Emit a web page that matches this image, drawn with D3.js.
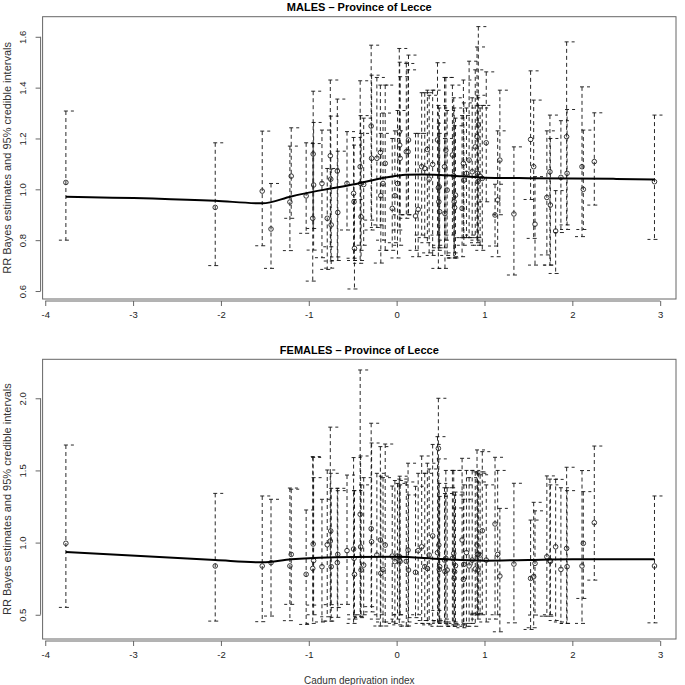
<!DOCTYPE html>
<html>
<head>
<meta charset="utf-8">
<script src="https://cdn.jsdelivr.net/npm/d3@7"></script>
<style>
    body { margin: 0; background: #fff; }
    svg { display: block; font-family: "Liberation Sans", Arial, sans-serif; }
</style>
</head>
<body>
<div id="chart"></div>
<script>
// --- Data (Cadum deprivation index vs RR) ---
const depIndex = [
    -3.765, -2.065, -1.53, -1.43, -1.215, -1.2, -1.03, -0.955, -0.95, -0.945,
    -0.85, -0.79, -0.755, -0.75, -0.745, -0.675, -0.67, -0.565, -0.49, -0.485,
    -0.48, -0.415, -0.41, -0.405, -0.375, -0.29, -0.285, -0.225, -0.185, -0.18,
    -0.155, -0.13, -0.05, -0.02, 0.01, 0.03, 0.035, 0.04, 0.11, 0.13,
    0.135, 0.215, 0.245, 0.285, 0.32, 0.35, 0.37, 0.41, 0.465, 0.475,
    0.48, 0.485, 0.49, 0.545, 0.55, 0.56, 0.575, 0.635, 0.65, 0.655,
    0.66, 0.67, 0.745, 0.76, 0.765, 0.795, 0.825, 0.86, 0.895, 0.915,
    0.92, 0.925, 0.93, 0.95, 0.975, 1.02, 1.12, 1.15, 1.175, 1.335,
    1.525, 1.56, 1.575, 1.71, 1.745, 1.75, 1.81, 1.87, 1.935, 1.94,
    2.11, 2.125, 2.25, 2.935
];

const maleRR = [
    1.027, 0.929, 0.993, 0.844, 0.95, 1.052, 0.974, 0.886, 1.139, 1.017,
    1.023, 0.886, 1.132, 1.04, 0.86, 1.072, 0.909, 1.023, 0.984, 0.951,
    0.768, 1.089, 1.023, 0.892, 1.019, 1.249, 1.122, 1.122, 1.145, 0.975,
    1.023, 1.102, 0.925, 0.975, 1.023, 1.226, 1.174, 1.122, 1.148, 1.148,
    1.194, 0.895, 0.921, 1.089, 1.082, 1.157, 1.04, 1.098, 1.194, 1.006,
    0.951, 1.01, 0.912, 1.089, 0.905, 1.154, 0.997, 1.135, 1.053, 0.951,
    0.928, 0.977, 0.925, 1.102, 1.036, 1.063, 1.115, 1.069, 1.167, 1.207,
    1.063, 1.03, 1.253, 1.052, 1.043, 1.183, 0.899, 0.958, 1.115, 0.903,
    1.196, 1.089, 0.863, 0.968, 1.069, 0.938, 0.836, 1.047, 1.207, 1.063,
    1.089, 1.0, 1.109, 1.03
];
const maleLow = [
    0.80, 0.70, 0.778, 0.689, 0.759, 0.886, 0.827, 0.639, 0.846, 0.761,
    0.731, 0.685, 0.774, 0.718, 0.69, 0.734, 0.72, 0.84, 0.729, 0.72,
    0.608, 0.709, 0.76, 0.72, 0.78, 0.879, 0.84, 0.85, 0.86, 0.71,
    0.80, 0.76, 0.76, 0.79, 0.73, 0.84, 0.90, 0.78, 0.886, 0.90,
    0.90, 0.76, 0.735, 0.82, 0.81, 0.79, 0.75, 0.74, 0.82, 0.689,
    0.76, 0.78, 0.77, 0.77, 0.689, 0.80, 0.74, 0.82, 0.73, 0.73,
    0.75, 0.73, 0.735, 0.81, 0.78, 0.81, 0.81, 0.82, 0.81, 0.79,
    0.80, 0.78, 0.81, 0.78, 0.76, 0.951, 0.777, 0.735, 0.90, 0.663,
    0.96, 0.807, 0.702, 0.742, 0.702, 0.702, 0.669, 0.83, 0.86, 0.842,
    0.814, 0.842, 0.938, 0.803
];
const maleHigh = [
    1.308, 1.183, 1.229, 1.023, 1.17, 1.242, 1.183, 1.18, 1.386, 1.263,
    1.233, 1.082, 1.43, 1.288, 1.08, 1.355, 1.15, 1.227, 1.204, 1.174,
    0.96, 1.427, 1.29, 1.22, 1.28, 1.567, 1.449, 1.44, 1.41, 1.22,
    1.30, 1.41, 1.20, 1.23, 1.31, 1.554, 1.50, 1.443, 1.495, 1.47,
    1.528, 1.22, 1.22, 1.38, 1.38, 1.39, 1.37, 1.39, 1.498, 1.33,
    1.26, 1.32, 1.22, 1.44, 1.20, 1.44, 1.31, 1.41, 1.36, 1.32,
    1.25, 1.28, 1.29, 1.43, 1.34, 1.32, 1.504, 1.36, 1.47, 1.56,
    1.37, 1.33, 1.64, 1.32, 1.33, 1.462, 1.02, 1.23, 1.39, 1.167,
    1.466, 1.351, 1.05, 1.23, 1.292, 1.20, 0.995, 1.27, 1.58, 1.314,
    1.403, 1.233, 1.301, 1.292
];

const femaleRR = [
    0.995, 0.838, 0.838, 0.861, 0.838, 0.918, 0.78, 0.821, 0.99, 0.875,
    0.833, 0.985, 1.011, 1.08, 0.833, 0.861, 0.918, 0.944, 0.955, 0.891,
    0.78, 1.196, 0.97, 0.81, 0.844, 1.096, 1.006, 0.914, 1.018, 0.787,
    0.814, 0.983, 0.907, 0.868, 0.907, 0.879, 0.902, 0.87, 0.87, 0.948,
    0.81, 0.794, 0.944, 0.971, 0.833, 0.821, 0.914, 1.046, 0.93, 1.653,
    0.983, 0.814, 0.833, 0.879, 0.80, 0.891, 0.81, 0.891, 0.925, 0.752,
    0.798, 0.84, 1.018, 0.745, 0.849, 0.93, 0.838, 0.879, 0.817, 0.983,
    0.918, 0.81, 0.92, 0.914, 1.082, 0.879, 1.129, 0.918, 0.768, 0.851,
    0.752, 0.764, 0.856, 0.902, 0.875, 0.87, 0.971, 0.814, 0.96, 0.833,
    0.838, 0.995, 1.138, 0.838
];
const femaleLow = [
    0.551, 0.456, 0.452, 0.491, 0.459, 0.572, 0.433, 0.44, 0.567, 0.50,
    0.45, 0.486, 0.456, 0.57, 0.456, 0.482, 0.55, 0.572, 0.44, 0.50,
    0.47, 0.486, 0.49, 0.48, 0.50, 0.556, 0.52, 0.47, 0.422, 0.50,
    0.45, 0.422, 0.45, 0.44, 0.47, 0.43, 0.50, 0.50, 0.42, 0.422,
    0.45, 0.48, 0.50, 0.44, 0.46, 0.44, 0.43, 0.46, 0.42, 0.53,
    0.44, 0.45, 0.46, 0.45, 0.44, 0.47, 0.42, 0.43, 0.42, 0.42,
    0.45, 0.44, 0.43, 0.41, 0.43, 0.42, 0.44, 0.44, 0.42, 0.50,
    0.51, 0.47, 0.50, 0.51, 0.50, 0.45, 0.47, 0.50, 0.382, 0.444,
    0.398, 0.41, 0.498, 0.49, 0.50, 0.49, 0.46, 0.45, 0.44, 0.44,
    0.44, 0.613, 0.74, 0.444
];
const femaleHigh = [
    1.676, 1.341, 1.323, 1.30, 1.378, 1.37, 1.226, 1.596, 1.59, 1.45,
    1.30, 1.503, 1.80, 1.48, 1.376, 1.376, 1.36, 1.468, 1.589, 1.36,
    1.36, 2.196, 1.60, 1.40, 1.45, 1.827, 1.69, 1.48, 1.665, 1.46,
    1.45, 1.683, 1.392, 1.43, 1.41, 1.44, 1.46, 1.40, 1.42, 1.55,
    1.33, 1.39, 1.48, 1.60, 1.48, 1.55, 1.51, 1.68, 1.734, 2.0,
    1.58, 1.41, 1.32, 1.38, 1.34, 1.50, 1.38, 1.50, 1.50, 1.24,
    1.33, 1.35, 1.584, 1.30, 1.40, 1.50, 1.45, 1.50, 1.49, 1.642,
    1.49, 1.42, 1.48, 1.47, 1.63, 1.40, 1.591, 1.50, 1.237, 1.411,
    1.156, 1.279, 1.22, 1.462, 1.44, 1.40, 1.438, 1.38, 1.522, 1.36,
    1.499, 1.353, 1.669, 1.323
];

// smoothed trend (fitted curve)
const maleTrendX = [-3.765, -2.065, -1.53, -1.2, -1.0, -0.75, -0.5, -0.25, 0.0, 0.1, 0.3, 0.5, 0.75, 1.0, 1.5, 2.0, 2.5, 2.935];
const maleTrend = [0.971, 0.955, 0.945, 0.972, 0.987, 1.003, 1.019, 1.038, 1.053, 1.057, 1.058, 1.056, 1.051, 1.046, 1.044, 1.043, 1.041, 1.039];
const femaleTrendX = [-3.765, -2.065, -1.53, -1.2, -0.5, 0.0, 0.5, 1.0, 1.5, 2.0, 2.935];
const femaleTrend = [0.935, 0.879, 0.863, 0.884, 0.900, 0.902, 0.886, 0.875, 0.880, 0.884, 0.884];

const xTicks = [-4, -3, -2, -1, 0, 1, 2, 3];
const maleYTicks = [0.6, 0.8, 1.0, 1.2, 1.4, 1.6];
const femaleYTicks = [0.5, 1.0, 1.5, 2.0];

const yTitle = "RR Bayes estimates and 95% credible intervals";
const xTitle = "Cadum deprivation index";

// --- Layout ---
const W = 685, H = 685;
const left = 42.6, right = 676;

const svg = d3.select("#chart").append("svg")
    .attr("width", W)
    .attr("height", H);

svg.append("rect").attr("width", W).attr("height", H).attr("fill", "#fff");

function drawPanel(cfg) {
    const x = d3.scaleLinear().domain([-4.03, 3.18]).range([left, right]);
    const y = d3.scaleLinear().domain(cfg.yDomain).range([cfg.bottom, cfg.top]);
    const g = svg.append("g");

    // title
    g.append("text")
        .attr("x", (left + right) / 2)
        .attr("y", cfg.top - 5.5)
        .attr("text-anchor", "middle")
        .attr("font-weight", "bold")
        .attr("font-size", "11px")
        .text(cfg.title);

    // frame
    g.append("rect")
        .attr("x", left)
        .attr("y", cfg.top)
        .attr("width", right - left)
        .attr("height", cfg.bottom - cfg.top)
        .attr("fill", "none")
        .attr("stroke", "#666")
        .attr("stroke-width", 1);

    // x axis (R style: line spans the ticks)
    const xAxis = g.append("g")
        .attr("transform", `translate(0, ${cfg.bottom + 2})`)
        .call(d3.axisBottom(x).tickValues(xTicks).tickSize(5).tickPadding(5)
            .tickFormat(d => String(d)));
    xAxis.select(".domain").attr("d", `M${x(-4)},0H${x(3)}`).attr("stroke", "#666");
    xAxis.selectAll("line").attr("stroke", "#666");
    xAxis.selectAll("text").attr("font-size", "9.5px").attr("fill", "#222")
        .attr("font-family", "Liberation Sans, Arial, sans-serif");

    // y axis with rotated labels
    const yAxis = g.append("g")
        .attr("transform", `translate(${left - 2}, 0)`)
        .call(d3.axisLeft(y).tickValues(cfg.yTicks).tickSize(5).tickFormat(d3.format(".1f")));
    const yt = cfg.yTicks;
    yAxis.select(".domain").attr("d", `M0,${y(yt[0])}V${y(yt[yt.length - 1])}`).attr("stroke", "#666");
    yAxis.selectAll("line").attr("stroke", "#666");
    yAxis.selectAll("text")
        .attr("font-size", "9.5px")
        .attr("fill", "#222")
        .attr("font-family", "Liberation Sans, Arial, sans-serif")
        .attr("x", null)
        .attr("text-anchor", "middle")
        .attr("transform", "translate(-18,0) rotate(-90)")
        .attr("dy", "0.35em");

    // y axis title
    g.append("text")
        .attr("transform", `translate(7, ${(cfg.top + cfg.bottom) / 2}) rotate(-90)`)
        .attr("text-anchor", "middle")
        .attr("dy", "0.35em")
        .attr("font-size", "11px")
        .attr("fill", "#333")
        .text(yTitle);

    // --- error bars ---
    const rows = depIndex.map((d, i) => ({ x: d, est: cfg.est[i], lo: cfg.lo[i], hi: cfg.hi[i] }));
    const bars = g.append("g")
        .attr("stroke", "#111")
        .attr("stroke-width", 0.9)
        .attr("stroke-dasharray", "4,3")
        .attr("fill", "none");

    bars.selectAll("line.v").data(rows).enter().append("line")
        .attr("class", "v")
        .attr("x1", d => x(d.x)).attr("x2", d => x(d.x))
        .attr("y1", d => y(d.hi)).attr("y2", d => y(d.lo));

    bars.selectAll("line.top").data(rows).enter().append("line")
        .attr("class", "top")
        .attr("x1", d => x(d.x) - 2).attr("x2", d => x(d.x) + 8)
        .attr("y1", d => y(d.hi)).attr("y2", d => y(d.hi));

    bars.selectAll("line.bot").data(rows).enter().append("line")
        .attr("class", "bot")
        .attr("x1", d => x(d.x) + 3).attr("x2", d => x(d.x) - 7)
        .attr("y1", d => y(d.lo)).attr("y2", d => y(d.lo));

    // --- point estimates ---
    g.append("g").selectAll("circle").data(rows).enter().append("circle")
        .attr("cx", d => x(d.x))
        .attr("cy", d => y(d.est))
        .attr("r", 2.3)
        .attr("fill", "none")
        .attr("stroke", "#222")
        .attr("stroke-width", 0.9);

    // --- trend line ---
    const trend = cfg.trendX.map((d, i) => [d, cfg.trend[i]]);
    g.append("path")
        .datum(trend)
        .attr("d", d3.line().x(d => x(d[0])).y(d => y(d[1])).curve(d3.curveMonotoneX))
        .attr("fill", "none")
        .attr("stroke", "#000")
        .attr("stroke-width", 2);

    return x;
}

drawPanel({
    title: "MALES \u2013 Province of Lecce",
    top: 16.7, bottom: 299,
    yDomain: [0.5686, 1.679],
    yTicks: maleYTicks,
    est: maleRR, lo: maleLow, hi: maleHigh,
    trendX: maleTrendX, trend: maleTrend
});

drawPanel({
    title: "FEMALES \u2013 Province of Lecce",
    top: 359.3, bottom: 639,
    yDomain: [0.332, 2.27],
    yTicks: femaleYTicks,
    est: femaleRR, lo: femaleLow, hi: femaleHigh,
    trendX: femaleTrendX, trend: femaleTrend
});

// x axis title
svg.append("text")
    .attr("x", (left + right) / 2)
    .attr("y", 680)
    .attr("dy", "0.35em")
    .attr("text-anchor", "middle")
    .attr("font-size", "10px")
    .attr("fill", "#333")
    .text(xTitle);
</script>
</body>
</html>
